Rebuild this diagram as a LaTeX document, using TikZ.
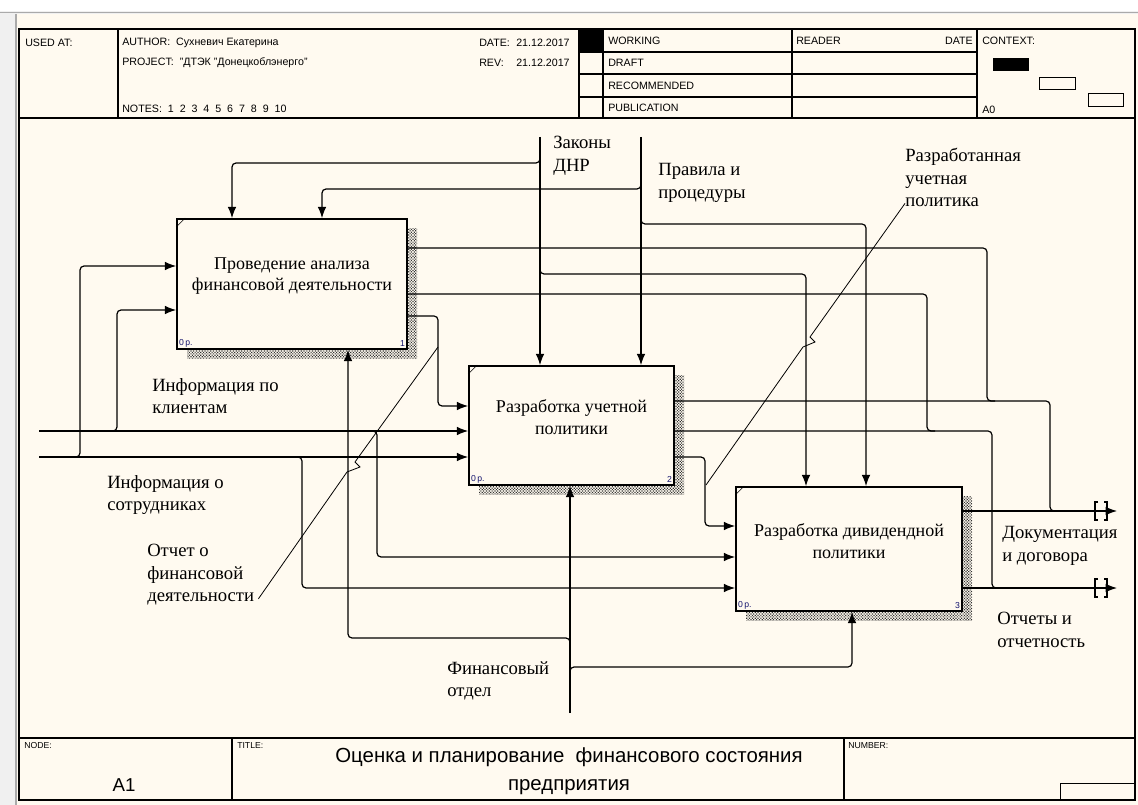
\documentclass[tikz,border=0pt]{standalone}
\usepackage{fontspec}
\setmainfont{Liberation Serif}
\setsansfont{Liberation Sans}
\usepackage{tikz}
\usepackage{xcolor}
\definecolor{paper}{RGB}{255,250,240}
\definecolor{chrome}{RGB}{240,240,240}
\definecolor{lgray}{RGB}{170,170,170}
\definecolor{tagblue}{RGB}{20,20,110}
\usetikzlibrary{positioning, calc, arrows.meta, patterns.meta, shadows}
\tikzstyle{Box} = [
draw,
line width=1.3pt,
fill=paper,
general shadow={shadow xshift=7.5pt, shadow yshift=-7pt,
pattern={Dots[distance=1.5pt, radius=0.62pt, angle=45]}, pattern color=black!80}]
\tikzstyle{BoxText} = [inner sep=0pt, align=center, font=\fontsize{13.5}{16}\selectfont]
\tikzstyle{Label} = [anchor=north west, inner sep=0pt, align=left, font=\fontsize{14}{17}\selectfont]
\tikzstyle{Tag} = [inner sep=2pt, text=tagblue, font=\sffamily\fontsize{6.5}{7}\selectfont]
\tikzstyle{Head} = [anchor=west, inner sep=0pt, font=\sffamily\fontsize{8}{9}\selectfont]
\tikzstyle{Small} = [Head, font=\sffamily\fontsize{6.5}{8}\selectfont]
\tikzstyle{Title} = [align=center, inner sep=0pt, font=\sffamily\fontsize{15.3}{21}\selectfont]
\tikzstyle{Frame} = [line width=1.1pt]
\tikzstyle{Link} = [line width=0.9pt, rounded corners=3pt]
\tikzstyle{Arrow} = [Link, -{Latex[length=8.5pt, width=6.5pt]}]
\tikzstyle{Leader} = [line width=0.6pt]
\newcommand{\Tunnel}[1]{
\draw[line width=0.9pt] (#1) ++(-19,-9) -- ++(-3,0) -- ++(0,18) -- ++(3,0);
\draw[line width=0.9pt] (#1) ++(-13,-9) -- ++(3,0) -- ++(0,18) -- ++(-3,0);}
\begin{document}
\begin{tikzpicture}[x=0.75pt, y=-0.75pt]
    \useasboundingbox (0,0) rectangle (1138,805);
    % window and sheet
    \fill[chrome] (0,0) rectangle (1138,805);
    \fill[white] (0,0) rectangle (1138,11);
    \draw[lgray] (0,12) -- (1138,12);
    \fill[paper] (17,14) rectangle (1138,805);
    \draw[lgray, line width=1pt] (16,14) -- (16,805);

    % frame
    \draw[Frame] (19,29) rectangle (1135,800);
    \draw[Frame] (19,118) -- (1135,118);
    \draw[Frame] (19,738) -- (1135,738);
    \draw[Frame] (118,29) -- (118,118);
    \draw[Frame] (579,29) -- (579,118);
    \draw[Frame] (603,29) -- (603,118);
    \draw[Frame] (792,29) -- (792,118);
    \draw[Frame] (977,29) -- (977,118);
    \foreach \y in {52,74,97}
        \draw[Frame] (579,\y) -- (977,\y);
    \fill (579,29) rectangle (603,52);
    \fill (993,58) rectangle (1029,71);
    \draw (1039,77) rectangle (1075,89);
    \draw (1088,93) rectangle (1123,106);
    \draw[Frame] (232,738) -- (232,800);
    \draw[Frame] (844,738) -- (844,800);
    \draw (1060,783) rectangle (1135,800);

    \node[Head] (usedat) at (25,43) {USED AT:};
    \node[Head] (author) at (122,43) {AUTHOR:\ \ Сухневич Екатерина};
    \node[Head] (project) at (122,63) {PROJECT:\ \ "ДТЭК "Донецкоблэнерго"};
    \node[Head] (notes) at (122,109) {NOTES:\ \ 1\ \ 2\ \ 3\ \ 4\ \ 5\ \ 6\ \ 7\ \ 8\ \ 9\ \ 10};
    \node[Head] (date) at (479,43) {DATE:};
    \node[Head] (date-v) at (516,43) {21.12.2017};
    \node[Head] (rev) at (479,63) {REV:};
    \node[Head] (rev-v) at (516,63) {21.12.2017};
    \foreach \t/\y in {WORKING/41, DRAFT/63, RECOMMENDED/86, PUBLICATION/108}
        \node[Head] (\t) at (608,\y) {\t};
    \node[Head] (reader) at (796,41) {READER};
    \node[Head, anchor=east] (rdate) at (973,41) {DATE};
    \node[Head] (context) at (982,41) {CONTEXT:};
    \node[Head] (ctxnode) at (982,110) {A0};

    \node[Small] (nodelbl) at (24,746) {NODE:};
    \node[Small] (titlelbl) at (237,746) {TITLE:};
    \node[Small] (numlbl) at (848,746) {NUMBER:};
    \node[font=\sffamily\fontsize{14}{17}\selectfont] (nodeno) at (124,785) {A1};
    \node[Title] (title) at (569,771) {Оценка и планирование\ \ финансового состояния\\предприятия};

    % activities
    \node[Box, minimum width=172.5pt, minimum height=97.5pt] (A1) at (292,284) {};
    \node[Box, minimum width=153.75pt, minimum height=89.25pt] (A2) at (571.5,425.5) {};
    \node[Box, minimum width=169.5pt, minimum height=93pt] (A3) at (849,549) {};
    \node[BoxText] (A1-text) at (292,276) {Проведение анализа\\финансовой деятельности};
    \node[BoxText] (A2-text) at (571.5,417) {Разработка учетной\\политики};
    \node[BoxText] (A3-text) at (849,541) {Разработка дивидендной\\политики};
    \foreach \b/\n in {A1/1, A2/2, A3/3} {
        \draw (\b.north west) ++(0,9) -- ++(9,-9);
        \node[Tag, anchor=south west] (\b-cost) at (\b.south west) {0\,р.};
        \node[Tag, anchor=south east] (\b-num) at (\b.south east) {\n};
    }

    % free ends
    \coordinate (zakony) at (540,137);
    \coordinate (pravila) at (641,137);
    \coordinate (klienty) at (39,431);
    \coordinate (sotrud) at (39,457);
    \coordinate (otdel) at (570,713);
    \coordinate (dokum) at (1117,511);
    \coordinate (otchety) at (1117,588);

    % controls
    \draw[Arrow] (zakony) -- (zakony |- A2.north);
    \draw[Arrow] (540,157) |- (232,163) -- (232,0 |- A1.north);
    \draw[Arrow] (540,268) |- (806,274) -- (806,0 |- A3.north);
    \draw[Arrow] (pravila) -- (pravila |- A2.north);
    \draw[Arrow] (641,183) |- (322,189) -- (322,0 |- A1.north);
    \draw[Arrow] (641,218) |- (866,224) -- (866,0 |- A3.north);

    % inputs
    \draw[Arrow] (klienty) -- (klienty -| A2.west);
    \draw[Arrow] (sotrud) -- (sotrud -| A2.west);
    \draw[Arrow] (111,431) -| (117,310) -- (A1.west |- 0,310);
    \draw[Arrow] (74,457) -| (80,266) -- (A1.west |- 0,266);
    \draw[Arrow] (371,431) -| (377,557) -- (A3.west |- 0,557);
    \draw[Arrow] (296,457) -| (302,588) -- (A3.west |- 0,588);

    % outputs
    \draw[Link] (A1.east |- 0,248) -| (987,401) -- (995,401);
    \draw[Link] (A1.east |- 0,294) -| (927,431) -- (935,431);
    \draw[Arrow] (A1.east |- 0,316) -| (438,406) -- (A2.west |- 0,406);
    \draw[Link] (A2.east |- 0,401) -| (1050,511) -- (1058,511);
    \draw[Link] (A2.east |- 0,431) -| (992,588) -- (1000,588);
    \draw[Arrow] (A2.east |- 0,457) -| (705,526) -- (A3.west |- 0,526);
    \Tunnel{dokum}
    \Tunnel{otchety}
    \draw[Arrow] (A3.east |- dokum) -- (dokum);
    \draw[Arrow] (A3.east |- otchety) -- (otchety);

    % mechanism
    \draw[Arrow] (otdel) -- (otdel |- A2.south);
    \draw[Arrow] (570,644) |- (348,638) -- (348,0 |- A1.south);
    \draw[Arrow] (570,673) |- (852,667) -- (852,0 |- A3.south);

    % labels
    \node[Label] (zakon-l) at (553,136) {Законы\\ДНР};
    \node[Label] (pravila-l) at (658,163) {Правила и\\процедуры};
    \node[Label] (razr-l) at (905,148) {Разработанная\\учетная\\политика};
    \node[Label] (klienty-l) at (152,378) {Информация по\\клиентам};
    \node[Label] (sotrud-l) at (107,475) {Информация о\\сотрудниках};
    \node[Label] (otchet-l) at (147,544) {Отчет о\\финансовой\\деятельности};
    \node[Label] (otdel-l) at (447,661) {Финансовый\\отдел};
    \node[Label] (dokum-l) at (1002,526) {Документация\\и договора};
    \node[Label] (otchety-l) at (997,612) {Отчеты и\\отчетность};

    \draw[Leader] ($(otchet-l.south east)+(4,-7)$) -- (347,472) -- (360,467) -- (355,462) -- (438,347);
    \draw[Leader] ($(razr-l.south west)+(0,-4)$) -- (810,337) -- (815,342) -- (803,347) -- (706,485);
\end{tikzpicture}
\end{document}
